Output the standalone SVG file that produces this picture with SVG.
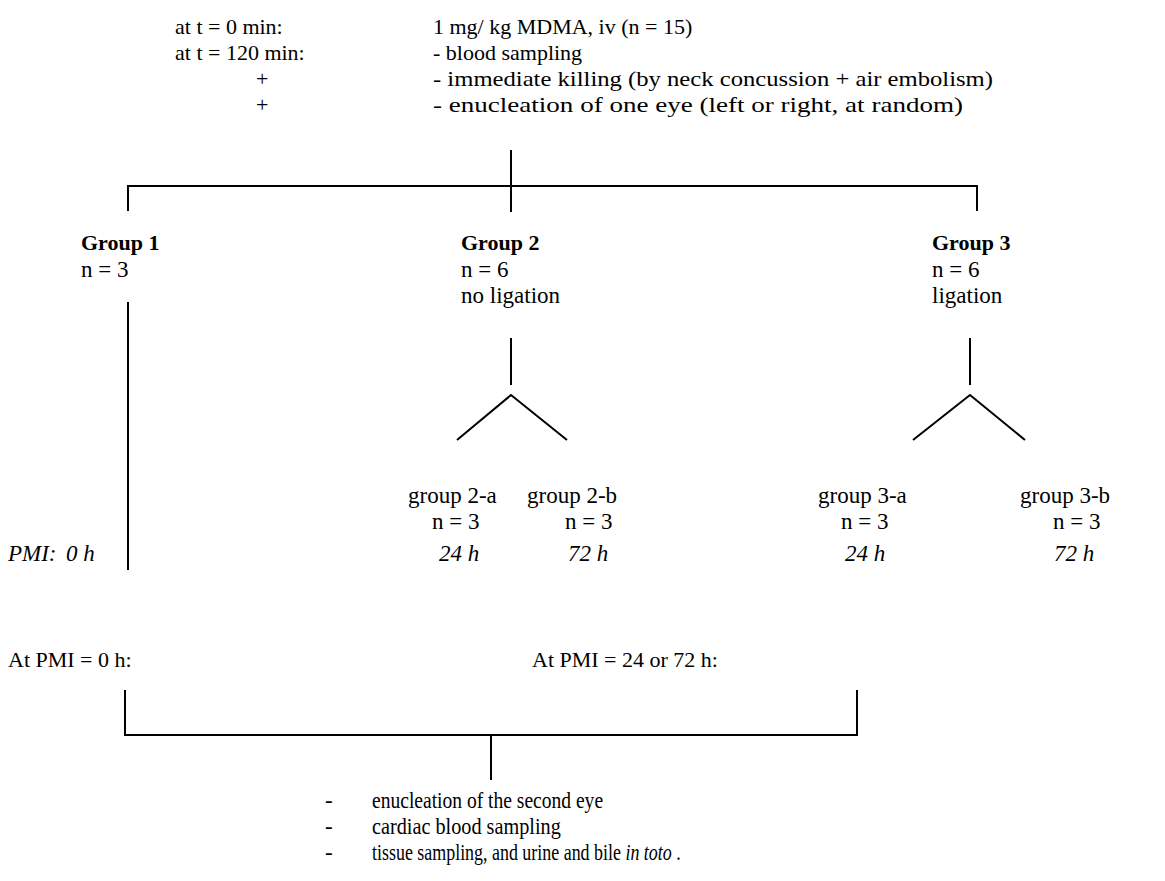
<svg xmlns="http://www.w3.org/2000/svg" width="1165" height="881" viewBox="0 0 1165 881">
<style>
text{font-family:"Liberation Serif","Times New Roman",serif;font-size:23px;fill:#000}
.h{font-size:22px}
.b{font-weight:bold;font-size:22px}
.i{font-style:italic}
.l{font-size:22px}
.s{font-size:23px}
line,polyline{stroke:#000;stroke-width:2;fill:none}
</style>
<rect width="1165" height="881" fill="#fff"/>
<g id="header">
<text class="h" x="175" y="34">at t = 0 min:</text>
<text class="h" x="433" y="34">1 mg/ kg MDMA, iv (n = 15)</text>
<text class="h" x="175" y="60">at t = 120 min:</text>
<text class="h" x="433" y="60">- blood sampling</text>
<text class="h" x="256" y="86">+</text>
<text class="h" x="433" y="86" textLength="560" lengthAdjust="spacingAndGlyphs">- immediate killing (by neck concussion + air embolism)</text>
<text class="h" x="256" y="112">+</text>
<text class="h" x="433" y="112" textLength="530" lengthAdjust="spacingAndGlyphs">- enucleation of one eye (left or right, at random)</text>
</g>
<g id="group1">
<text class="b" x="81" y="250">Group 1</text>
<text x="81" y="277">n = 3</text>
</g>
<g id="group2">
<text class="b" x="461" y="250">Group 2</text>
<text x="461" y="277">n = 6</text>
<text x="461" y="303">no ligation</text>
</g>
<g id="group3">
<text class="b" x="932" y="250">Group 3</text>
<text x="932" y="277">n = 6</text>
<text x="932" y="303">ligation</text>
</g>
<g id="group2a">
<text x="408" y="503">group 2-a</text>
<text x="432" y="529">n = 3</text>
</g>
<g id="group2b">
<text x="527" y="503">group 2-b</text>
<text x="565" y="529">n = 3</text>
</g>
<g id="group3a">
<text x="818" y="503">group 3-a</text>
<text x="841" y="529">n = 3</text>
</g>
<g id="group3b">
<text x="1020" y="503">group 3-b</text>
<text x="1053" y="529">n = 3</text>
</g>
<g id="pmi">
<text class="i" x="8" y="561">PMI:</text>
<text class="i" x="66" y="561">0 h</text>
<text class="i" x="439" y="561">24 h</text>
<text class="i" x="568" y="561">72 h</text>
<text class="i" x="845" y="561">24 h</text>
<text class="i" x="1054" y="561">72 h</text>
</g>
<g id="at-pmi-0">
<text class="l" x="8" y="667">At PMI = 0 h:</text>
</g>
<g id="at-pmi-24-72">
<text class="l" x="532" y="667">At PMI = 24 or 72 h:</text>
</g>
<g id="final-steps">
<text class="s" x="325" y="808">-</text>
<text class="s" transform="translate(372 808) scale(0.85 1)">enucleation of the second eye</text>
<text class="s" x="325" y="834">-</text>
<text class="s" transform="translate(372 834) scale(0.88 1)">cardiac blood sampling</text>
<text class="s" x="325" y="860">-</text>
<text class="s" transform="translate(372 860) scale(0.78 1)">tissue sampling, and urine and bile <tspan class="i">in toto</tspan> .</text>
</g>
<g id="connectors">
<line x1="511" y1="150" x2="511" y2="212"/>
<polyline points="128,211 128,186 977,186 977,211"/>
<line x1="128" y1="302" x2="128" y2="570"/>
<line x1="511" y1="338" x2="511" y2="385"/>
<polyline points="457,440 511,395 567,440"/>
<line x1="970" y1="338" x2="970" y2="385"/>
<polyline points="913,440 970,395 1025,440"/>
<polyline points="125,690 125,735 857,735 857,690"/>
<line x1="491" y1="735" x2="491" y2="780"/>
</g>
</svg>
